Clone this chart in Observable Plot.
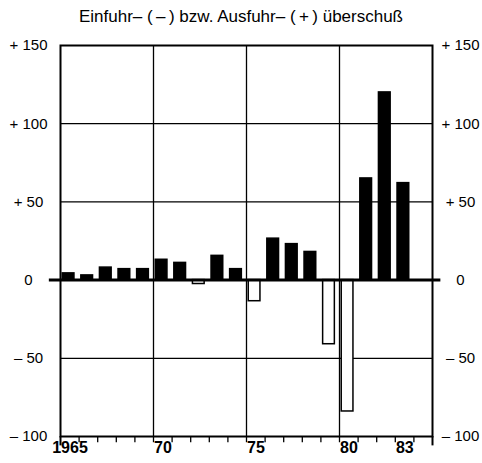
<!DOCTYPE html>
<html><head><meta charset="utf-8">
<script src="https://cdn.jsdelivr.net/npm/d3@7"></script>
<script src="https://cdn.jsdelivr.net/npm/@observablehq/plot@0.6"></script>
<style>
body{margin:0;background:#fff;}
#title{height:30px;line-height:34px;text-align:center;font-family:"Liberation Sans",Arial,sans-serif;font-size:17px;color:#000;white-space:nowrap;}
#chart svg{display:block;}
</style></head><body>
<div id="title">Einfuhr– (&#8201;–&#8201;) bzw. Ausfuhr– (&#8201;+&#8201;) überschuß</div>
<div id="chart"></div>
<script>
const years = [1965,1966,1967,1968,1969,1970,1971,1972,1973,1974,1975,1976,1977,1978,1979,1980,1981,1982,1983];
const values = [4.3,3,8,7,7,13,11,-2.5,15.5,7,-13.5,26.5,23,18,-41,-84,65,120,62];
const yTicks = [-100,-50,0,50,100,150];
const yTickLabels = ["– 100","– 50","0","+ 50","+ 100","+ 150"];
const xLabelYears = [1965,1970,1975,1980,1983];
const xLabels = ["1965","70","75","80","83"];
const gridX = [1970,1975,1980];
const gridY = [-50,50,100];
const xDomain = [1965,1985];
const yDomain = [-100,150];

const data = years.map((y,i)=>({year:y, value:values[i]}));
const tickYears = d3.range(xDomain[0]+1, xDomain[1]);
const fmtY = d => yTickLabels[yTicks.indexOf(d)];
const fmtX = d => xLabels[xLabelYears.indexOf(d)];

const plot = Plot.plot({
  width:482, height:433,
  marginTop:15, marginBottom:27, marginLeft:60, marginRight:50,
  x:{domain:xDomain, axis:null},
  y:{domain:yDomain, axis:null},
  color:{type:"identity"},
  style:{fontFamily:'"Liberation Sans",Arial,sans-serif', color:"black", background:"white"},
  marks:[
    Plot.ruleY(gridY,{stroke:"black",strokeWidth:1.3}),
    Plot.ruleX(gridX,{stroke:"black",strokeWidth:1.3}),
    Plot.ruleX(tickYears,{y1:yDomain[0],y2:yDomain[0]-4,stroke:"black",strokeWidth:1.3}),
    Plot.ruleX(xDomain,{y1:yDomain[0],y2:yDomain[0]-6,stroke:"black",strokeWidth:2}),
    Plot.frame({stroke:"black",strokeWidth:2}),
    Plot.rectY(data,{x1:d=>d.year+0.12,x2:d=>d.year+0.75,y1:0,y2:"value",
      fill:d=>d.value>=0?"black":"white",stroke:"black",strokeWidth:1.5}),
    Plot.ruleY([0],{x1:xDomain[0]-0.6,x2:xDomain[1]+0.45,stroke:"black",strokeWidth:3}),
    Plot.axisY(yTicks,{anchor:"left",label:null,tickSize:0,tickPadding:0,dx:-32,textAnchor:"middle",tickFormat:fmtY,fontSize:15}),
    Plot.axisY(yTicks,{anchor:"right",label:null,tickSize:0,tickPadding:0,dx:28,textAnchor:"middle",tickFormat:fmtY,fontSize:15}),
    Plot.axisX(xLabelYears,{anchor:"bottom",label:null,tickSize:0,tickPadding:5,dx:9.5,tickFormat:fmtX,fontSize:16,fontWeight:"bold"})
  ]
});
document.getElementById("chart").appendChild(plot);
</script>
</body></html>
